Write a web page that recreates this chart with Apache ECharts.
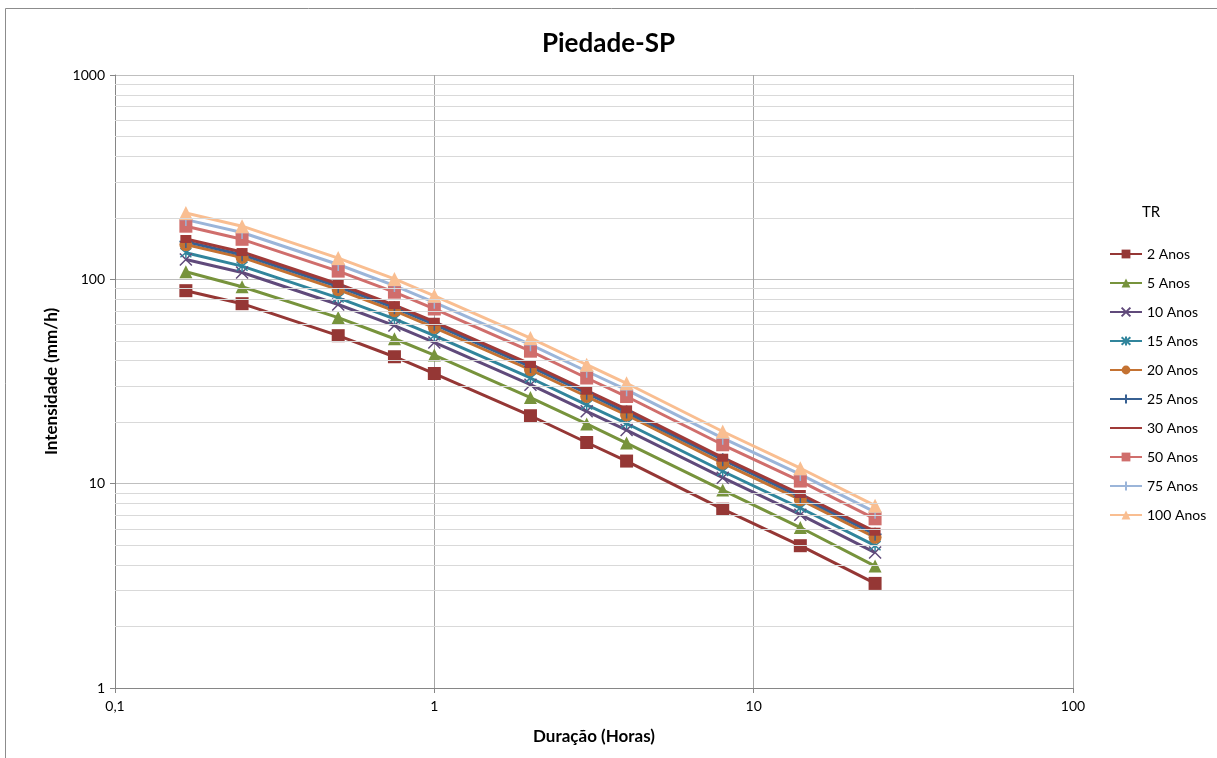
<!DOCTYPE html>
<html><head><meta charset="utf-8">
<script src="https://cdn.jsdelivr.net/npm/echarts@6/dist/echarts.min.js"></script>
<style>html,body{margin:0;padding:0;background:#fff}#c{width:1217px;height:758px}</style>
</head><body><div id="c"></div>
<script>
// Duração (horas)
const durations = [0.1667, 0.25, 0.5, 0.75, 1, 2, 3, 4, 8, 14, 24];
// Intensidade (mm/h) por período de retorno
const tr2   = [88, 76, 53, 41.8, 34.6, 21.5, 15.9, 12.9, 7.5, 4.97, 3.25];
const tr5   = [109, 92, 65, 51.2, 42.6, 26.4, 19.6, 15.8, 9.3, 6.1, 3.95];
const tr10  = [125, 108, 75.3, 59.4, 49.1, 30.5, 22.6, 18.3, 10.7, 7.05, 4.6];
const tr15  = [135, 116, 81.1, 64, 53, 32.9, 24.3, 19.7, 11.5, 7.6, 4.97];
const tr20  = [148, 128, 89, 70.2, 58.1, 36.1, 26.7, 21.7, 12.6, 8.35, 5.46];
const tr25  = [153, 132, 92.2, 72.7, 60.2, 37.4, 27.7, 22.4, 13.1, 8.65, 5.66];
const tr30  = [157.5, 136, 94.9, 74.8, 62, 38.5, 28.5, 23.1, 13.4, 8.9, 5.82];
const tr50  = [182, 157, 109.7, 86.5, 71.6, 44.5, 32.9, 26.7, 15.5, 10.3, 6.73];
const tr75  = [196, 169.5, 118.2, 93.2, 77.2, 47.9, 35.5, 28.8, 16.7, 11.1, 7.25];
const tr100 = [211, 182, 127, 100.5, 83, 51.6, 38.2, 31, 18, 11.9, 7.8];
const seriesNames = ['2 Anos','5 Anos','10 Anos','15 Anos','20 Anos','25 Anos','30 Anos','50 Anos','75 Anos','100 Anos'];
const seriesValues = [tr2, tr5, tr10, tr15, tr20, tr25, tr30, tr50, tr75, tr100];
const yMinorTicks = [2,3,4,5,6,7,8,9,20,30,40,50,60,70,80,90,200,300,400,500,600,700,800,900];

const FONT = 'Lato, "Liberation Sans", sans-serif';
const colors = ['#953735','#77933C','#604A7B','#31859C','#C47232','#376092','#A03A38','#D06E6C','#9BB5D9','#F9BE91'];
const XP = 'path://M0 0L10 10M10 0L0 10';
const STAR = 'path://M0 0L10 10M10 0L0 10M5 -1L5 11';
const PLUS = 'path://M5 0L5 10M0 5L10 5';
const symbols = ['rect','triangle',XP,STAR,'circle',PLUS,'rect','rect',PLUS,'triangle'];
const sizes = [13,13,12,11,13,13,[11,8],13,13,14];
const stroked = [false,false,true,true,false,true,false,false,true,false];

const chart = echarts.init(document.getElementById('c'), null, {renderer:'canvas'});
const series = seriesNames.map((n,i)=>({
  name:n, type:'line',
  data: durations.map((d,j)=>[d, seriesValues[i][j]]),
  symbol: symbols[i], symbolSize: sizes[i],
  lineStyle:{color:colors[i], width:3},
  itemStyle: stroked[i] ? {color:colors[i], borderColor:colors[i], borderWidth:1.5} : {color:colors[i], borderWidth:0},
  emphasis:{disabled:true}, animation:false
}));
series.push({
  type:'line', data:[], silent:true, animation:false,
  markLine:{silent:true, symbol:['none','none'], label:{show:false},
    lineStyle:{color:'#D9D9D9', width:1, type:'solid'},
    data: yMinorTicks.map(v=>({yAxis:v}))}
});

chart.setOption({
  backgroundColor:'#fff',
  animation:false,
  title:{text:'Piedade-SP', left:'center', top:26, textStyle:{fontFamily:FONT, fontSize:26, fontWeight:'bold', color:'#000'}},
  grid:{left:115, right:144, top:75, bottom:70},
  legend:{orient:'vertical', left:1109, top:247, padding:0, itemWidth:32, itemHeight:11, itemGap:15,
    textStyle:{fontFamily:FONT, fontSize:14, color:'#000'},
    data: seriesNames.map(n => n === '30 Anos' ? {name:n, itemStyle:{opacity:0}} : n)},
  xAxis:{type:'log', logBase:10, min:0.1, max:100,
    name:'Duração (Horas)', nameLocation:'middle', nameGap:40,
    nameTextStyle:{fontFamily:FONT, fontSize:17, fontWeight:'bold', color:'#000'},
    axisLine:{lineStyle:{color:'#868686'}},
    axisTick:{show:true, length:5, lineStyle:{color:'#868686'}},
    axisLabel:{fontFamily:FONT, fontSize:14, color:'#000', margin:11, formatter:v=>String(v).replace('.',',')},
    splitLine:{show:true, lineStyle:{color:'#A6A6A6', width:1}}},
  yAxis:{type:'log', logBase:10, min:1, max:1000,
    name:'Intensidade (mm/h)', nameLocation:'middle', nameGap:55,
    nameTextStyle:{fontFamily:FONT, fontSize:17, fontWeight:'bold', color:'#000'},
    axisLine:{show:true, lineStyle:{color:'#868686'}},
    axisTick:{show:true, length:5, lineStyle:{color:'#868686'}},
    axisLabel:{fontFamily:FONT, fontSize:14, color:'#000', margin:10, formatter:v=>String(v)},
    splitLine:{show:true, lineStyle:{color:'#BFBFBF', width:1}}},
  graphic:[
    {type:'rect', left:3, top:6, shape:{width:1230, height:770}, style:{fill:'none', stroke:'#8C8C8C', lineWidth:1}, silent:true, z:-10},
    {type:'text', left:1142, top:205, style:{text:'TR', fontFamily:FONT, fontSize:15, fill:'#000'}}
  ],
  series: series
});
</script></body></html>
